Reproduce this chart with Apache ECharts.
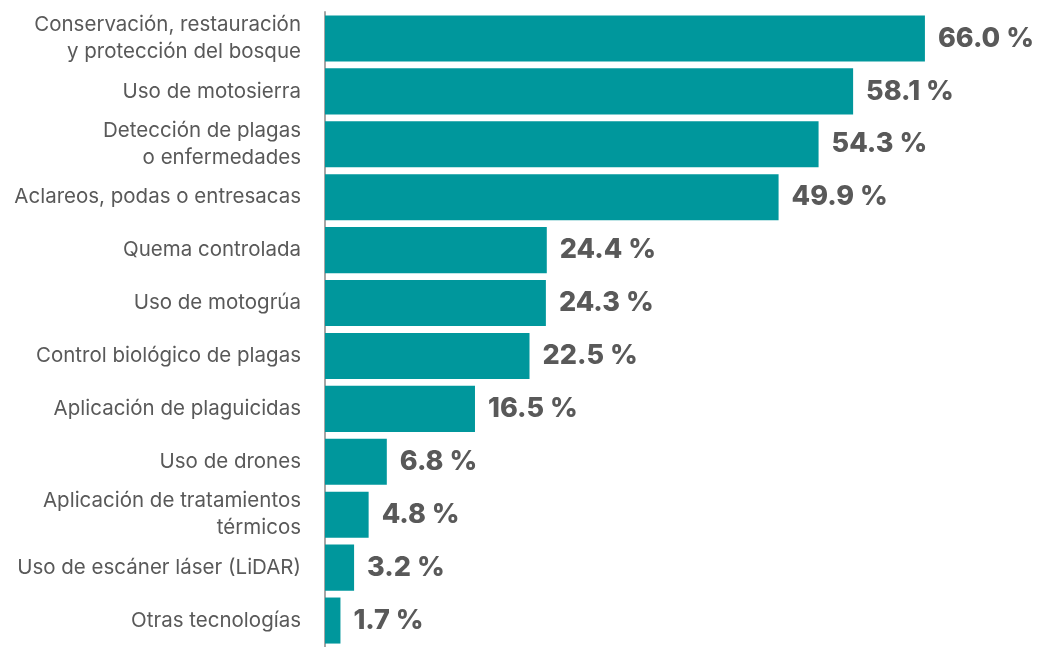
<!DOCTYPE html>
<html><head><meta charset="utf-8">
<script src="https://cdn.jsdelivr.net/npm/echarts@6/dist/echarts.min.js"></script>
<style>html,body{margin:0;padding:0;background:#fff}#c{width:1040px;height:647px}</style>
</head><body><div id="c"></div>
<script>
var categories = [
  "Conservación, restauración\ny protección del bosque",
  "Uso de motosierra",
  "Detección de plagas\no enfermedades",
  "Aclareos, podas o entresacas",
  "Quema controlada",
  "Uso de motogrúa",
  "Control biológico de plagas",
  "Aplicación de plaguicidas",
  "Uso de drones",
  "Aplicación de tratamientos\ntérmicos",
  "Uso de escáner láser (LiDAR)",
  "Otras tecnologías"
];
var values = [66.0, 58.1, 54.3, 49.9, 24.4, 24.3, 22.5, 16.5, 6.8, 4.8, 3.2, 1.7];

var chart = echarts.init(document.getElementById('c'));
chart.setOption({
  animation: false,
  grid: {left: 325, right: 6, top: 12, bottom: 0, containLabel: false},
  xAxis: {type: 'value', min: 0, max: 78, show: false},
  yAxis: {
    type: 'category', data: categories, inverse: true,
    axisLine: {show: true, lineStyle: {color: '#a6a6a6', width: 2}},
    axisTick: {show: false},
    axisLabel: {color: '#595959', fontFamily: 'Inter', fontSize: 20.5, lineHeight: 27, margin: 24, align: 'right'}
  },
  series: [{
    type: 'bar', data: values, barCategoryGap: '13%',
    itemStyle: {color: '#00979c'},
    label: {show: true, position: 'right', distance: 13, color: '#595959',
      fontFamily: 'Inter', fontWeight: 800, fontSize: 27,
      formatter: function(p){ return p.value.toFixed(1) + ' %'; }}
  }]
});
</script></body></html>
